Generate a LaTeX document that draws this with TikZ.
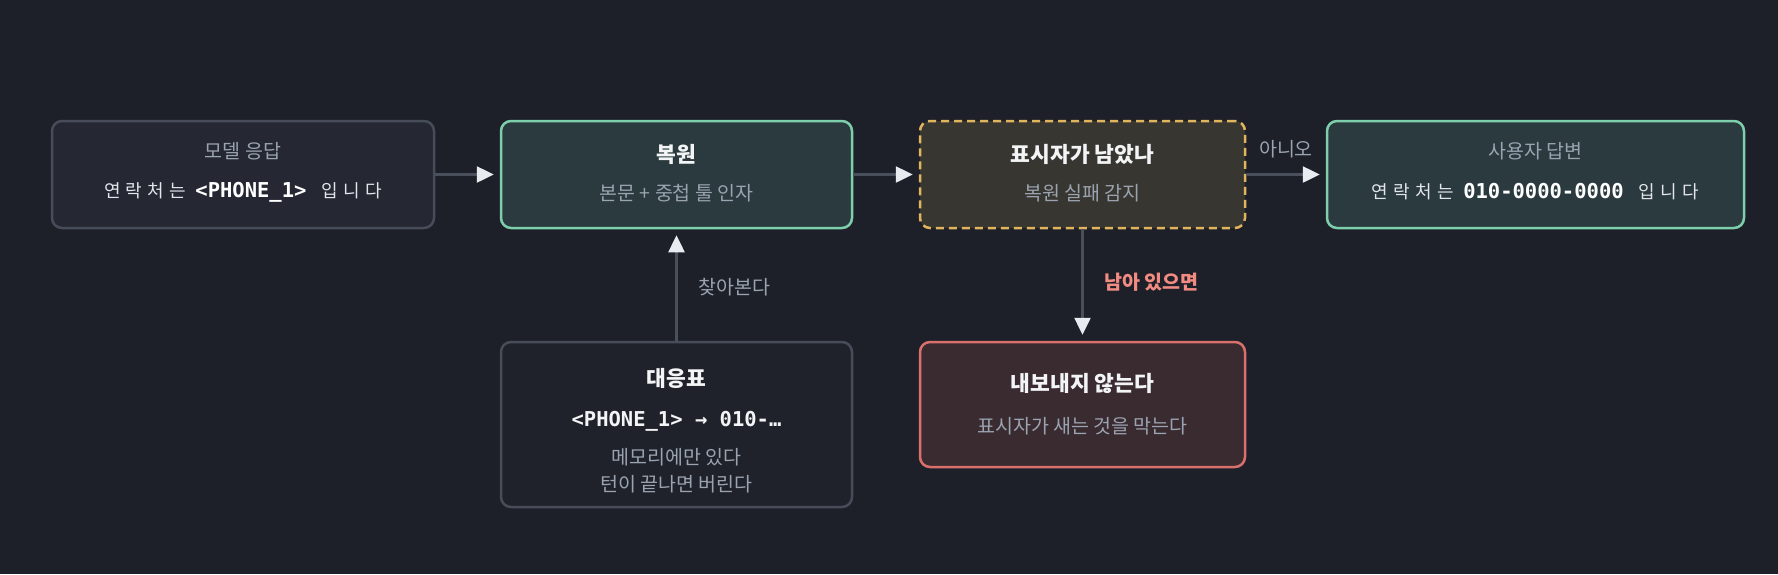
\documentclass[tikz,border=0pt]{standalone}
\usepackage{fontspec}
\usetikzlibrary{arrows.meta}
\newfontfamily\kr{Noto Sans CJK KR}
\newfontfamily\krsp{Noto Sans CJK KR}[LetterSpace=30]
\newfontfamily\mono{DejaVu Sans Mono}
\definecolor{bgc}{HTML}{1E2029}
\definecolor{grayb}{HTML}{474C59}
\definecolor{fone}{HTML}{252833}
\definecolor{fgreen}{HTML}{2A3A3E}
\definecolor{dgreen}{HTML}{7DCFAC}
\definecolor{fyellow}{HTML}{383630}
\definecolor{dyellow}{HTML}{E0B55E}
\definecolor{ffive}{HTML}{20222B}
\definecolor{fred}{HTML}{3A2B31}
\definecolor{dred}{HTML}{D9706C}
\definecolor{ttlc}{HTML}{F3F4F6}
\definecolor{subc}{HTML}{9AA3B0}
\definecolor{linec}{HTML}{E2E5EA}
\definecolor{salmon}{HTML}{F28B82}
\definecolor{connc}{HTML}{4A4F5C}
\definecolor{tipc}{HTML}{E8EBF0}
\begin{document}
\begin{tikzpicture}[x=1pt,y=-1pt,
  box/.style={rounded corners=10pt, line width=2.5pt, minimum height=107pt, inner sep=0pt},
  ttl/.style={inner sep=0pt, text=ttlc, font=\kr\bfseries\fontsize{21.5}{26}\selectfont},
  sub/.style={inner sep=0pt, text=subc, font=\kr\fontsize{19.5}{23}\selectfont},
  monol/.style={inner sep=0pt, text=linec, font=\krsp\fontsize{18}{22}\selectfont},
  conn/.style={draw=connc, line width=2.5pt, shorten >=6pt,
    -{Triangle[length=17pt,width=16pt,fill=tipc,color=tipc]}},
  elab/.style={inner sep=0pt, text=subc, font=\kr\fontsize{19.5}{23}\selectfont}]
\fill[bgc] (0,0) rectangle (1778,574);
\useasboundingbox (0,0) rectangle (1778,574);
% boxes
\node[box, draw=grayb, fill=fone, minimum width=382pt] (b1) at (243,174.5) {};
\node[box, draw=dgreen, fill=fgreen, minimum width=351pt] (b2) at (676.5,174.5) {};
\node[box, draw=dyellow, fill=fyellow, dash pattern=on 8pt off 5pt, minimum width=325pt] (b3) at (1082.5,174.5) {};
\node[box, draw=dgreen, fill=fgreen, minimum width=417pt] (b4) at (1535.5,174.5) {};
\node[box, draw=grayb, fill=ffive, minimum width=351pt, minimum height=165pt] (b5) at (676.5,424.5) {};
\node[box, draw=dred, fill=fred, minimum width=325pt, minimum height=125pt] (b6) at (1082.5,404.5) {};
% texts
\node[sub] (t1) at (243,151) {모델 응답};
\node[monol] (l1) at (243,192) {연락처는\hspace{9pt}{\mono\bfseries\fontsize{20.5}{24}\selectfont\color{white}<PHONE\_1>}\hspace{15pt}입니다};
\node[ttl] (t2) at (676.5,154) {복원};
\node[sub] (s2) at (676.5,193) {본문 + 중첩 툴 인자};
\node[ttl] (t3) at (1082.5,154) {표시자가 남았나};
\node[sub] (s3) at (1082.5,193) {복원 실패 감지};
\node[sub] (t4) at (1535.5,151) {사용자 답변};
\node[monol] (l4) at (1535.5,192) {연락처는\hspace{9pt}{\mono\bfseries\fontsize{20.5}{24}\selectfont\color{white}010-0000-0000}\hspace{15pt}입니다};
\node[ttl] (t5) at (676.5,378) {대응표};
\node[inner sep=0pt, text=ttlc, font=\mono\bfseries\fontsize{20.5}{24}\selectfont] (m5) at (676.5,421) {<PHONE\_1> → 010-…};
\node[sub] (s5a) at (676.5,457) {메모리에만 있다};
\node[sub] (s5b) at (676.5,484) {턴이 끝나면 버린다};
\node[ttl] (t6) at (1082.5,383) {내보내지 않는다};
\node[sub] (s6) at (1082.5,426) {표시자가 새는 것을 막는다};
% connectors
\draw[conn] (b1.east) -- (b2.west);
\draw[conn] (b2.east) -- (b3.west);
\draw[conn] (b3.east) -- (b4.west) node[elab, midway, above=15pt] (e1) {아니오};
\draw[conn] (b5.north) -- (b2.south);
\draw[conn] (b3.south) -- (b6.north);
\node[elab, anchor=west] (e2) at (698,287) {찾아본다};
\node[elab, anchor=west, text=salmon, font=\kr\bfseries\fontsize{19.5}{23}\selectfont] (e3) at (1104,282) {남아 있으면};
\end{tikzpicture}
\end{document}
